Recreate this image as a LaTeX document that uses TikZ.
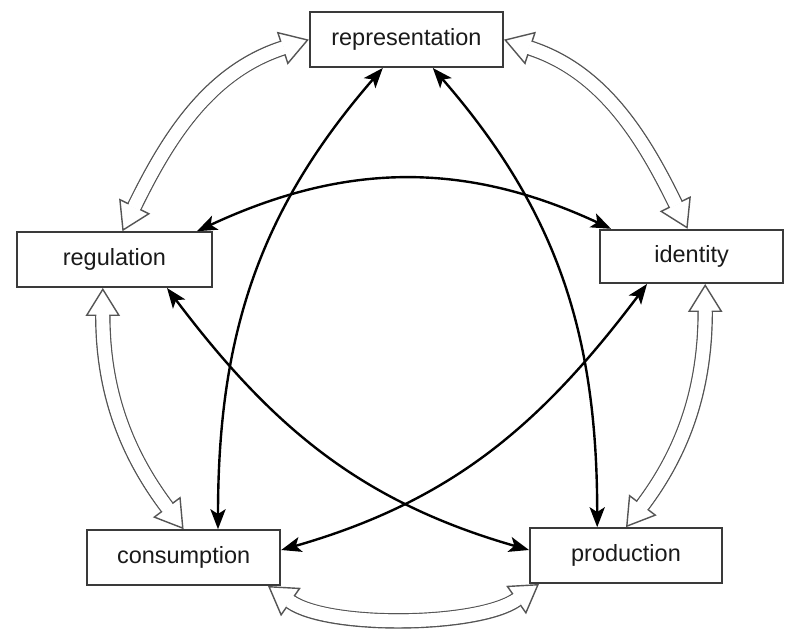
\documentclass[tikz,border=0pt]{standalone}
\usepackage{fontspec}
\setmainfont{Liberation Sans}
\usepackage{tikz}
\usetikzlibrary{arrows.meta,positioning,calc}
\definecolor{frame}{HTML}{3A3A3A}
\definecolor{hollow}{HTML}{555555}
\definecolor{ink}{HTML}{1A1A1A}
\tikzset{term/.style={draw=frame,line width=1.4pt,fill=white,minimum width=4.8cm,minimum height=1.37cm,inner sep=0pt,text=ink,font=\fontsize{16.7}{20}\selectfont}, link/.style={{Stealth[length=5mm,width=3.8mm,inset=1.2mm]}-{Stealth[length=5mm,width=3.8mm,inset=1.2mm]},line width=1.7pt,draw=black}, cycle/.style={draw=hollow,double=white,line width=1pt,double distance=9pt,{Triangle[open,fill=white,line width=1pt,length=7mm,width=8.6mm]}-{Triangle[open,fill=white,line width=1pt,length=7mm,width=8.6mm]}}, gap/.style={draw=white,line width=9pt,shorten <=6.5mm,shorten >=6.5mm}}
\newcommand\twoway[1]{\draw[cycle] #1; \draw[gap] #1;}

\begin{document}
\begin{tikzpicture}
\useasboundingbox[fill=white] (0,0) rectangle (19.725,-15.85);
\node[term,minimum width=4.83cm] (rep) at (10.16,-0.99) {representation};
\node[term,minimum width=4.88cm] (reg) at (2.86,-6.49) {regulation};
\node[term,minimum width=4.58cm,minimum height=1.33cm] (ide) at (17.29,-6.41) {identity};
\node[term,minimum width=4.83cm] (con) at (4.59,-13.94) {consumption};
\node[term] (pro) at (15.65,-13.89) {production};
\twoway{(rep.west) to[out=198,in=64] ([xshift=2mm]reg.north)}
\twoway{(rep.east) to[out=-18,in=116] ([xshift=-1mm]ide.north)}
\twoway{([xshift=3.4mm]ide.south) to[out=-90,in=53] (pro.north)}
\twoway{([xshift=-3.3mm]con.south east) to[out=-35,in=215,looseness=0.7] ([xshift=2.5mm]pro.south west)}
\twoway{([xshift=-2.9mm]reg.south) to[out=-90,in=127] (con.north)}
\draw[link] ([xshift=-5.9mm]rep.south) to[out=229,in=90] ([xshift=8.6mm]con.north);
\draw[link] ([xshift=6.6mm]rep.south) to[out=-49,in=90] ([xshift=-7.2mm]pro.north);
\draw[link] ([xshift=-4mm]reg.north east) to[out=25,in=155] ([xshift=3mm]ide.north west);
\draw[link] ([xshift=-11.5mm]reg.south east) to[out=-53,in=164] ([yshift=1.4mm]pro.west);
\draw[link] ([xshift=12mm]ide.south west) to[out=233,in=16] ([yshift=1.9mm]con.east);
\end{tikzpicture}
\end{document}
